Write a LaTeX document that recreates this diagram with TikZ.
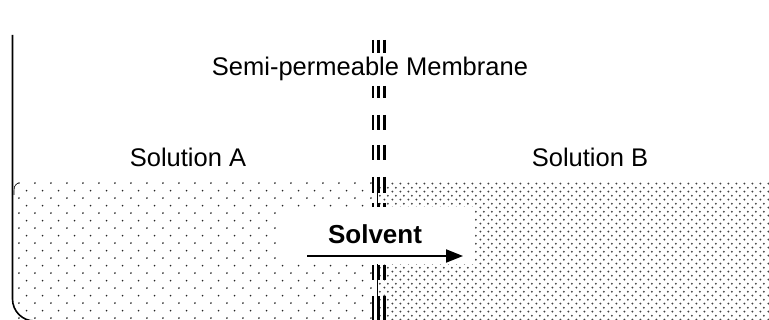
\documentclass[tikz,border=0pt]{standalone}
\usepackage{fontspec}
\setmainfont{Liberation Sans}
\usetikzlibrary{patterns,arrows.meta}
\pgfdeclarepatternformonly{dotsA}{\pgfqpoint{0pt}{0pt}}{\pgfqpoint{15.6pt}{15.4pt}}{\pgfqpoint{15.6pt}{15.4pt}}{%
  \pgfpathcircle{\pgfqpoint{3pt}{3pt}}{0.95pt}%
  \pgfpathcircle{\pgfqpoint{10.8pt}{10.7pt}}{0.95pt}%
  \pgfusepath{fill}}
\pgfdeclarepatternformonly{dotsB}{\pgfqpoint{0pt}{0pt}}{\pgfqpoint{7.5pt}{8.3pt}}{\pgfqpoint{7.5pt}{8.3pt}}{%
  \pgfpathcircle{\pgfqpoint{1.5pt}{1.5pt}}{1.1pt}%
  \pgfpathcircle{\pgfqpoint{5.25pt}{5.65pt}}{1.1pt}%
  \pgfusepath{fill}}
\tikzset{
  lbl/.style={font=\fontsize{25.5}{30}\selectfont, inner sep=1pt},
}
\begin{document}
\begin{tikzpicture}[x=1pt,y=-1pt]
\useasboundingbox (0,0) rectangle (769,320);
% solutions
\fill[pattern=dotsA, pattern color=black!85] (14,183) rectangle (377,321);
\fill[pattern=dotsB, pattern color=black!75] (377,183) rectangle (769,321);
\draw[line width=0.6pt] (377,183) -- (377,320);
\draw[line width=0.6pt] (18,183) .. controls (14,186) .. (14,195);
% container wall
\draw[line width=1.6pt, rounded corners=22pt] (12.5,35) -- (12.5,321) -- (120,321);
% membrane
\foreach \a/\b in {40/53, 86/98, 115/130, 145/160, 177/193, 203/212, 265/280, 296/322}{
  \draw[line width=2.6pt] (373,\a) -- (373,\b);
  \draw[line width=2.8pt] (378.5,\a) -- (378.5,\b);
  \draw[line width=3.6pt] (384.5,\a) -- (384.5,\b);
}
% solvent box
\node[fill=white, minimum width=195pt, minimum height=57pt, inner sep=0pt] (box) at (377.5,235.5) {};
\node[lbl, font=\fontsize{26}{30}\selectfont\bfseries] (solvent) at (375,234) {Solvent};
\coordinate (arrA) at (307,256);
\coordinate (arrB) at (463,256);
\draw[line width=2pt, -{Triangle[length=17pt,width=13pt]}] (arrA) -- (arrB);
% labels
\node[lbl] (mem) at (370,69) {Semi-permeable Membrane};
\node[lbl] (solA) at (188,157) {Solution A};
\node[lbl] (solB) at (590,157) {Solution B};
\end{tikzpicture}
\end{document}
